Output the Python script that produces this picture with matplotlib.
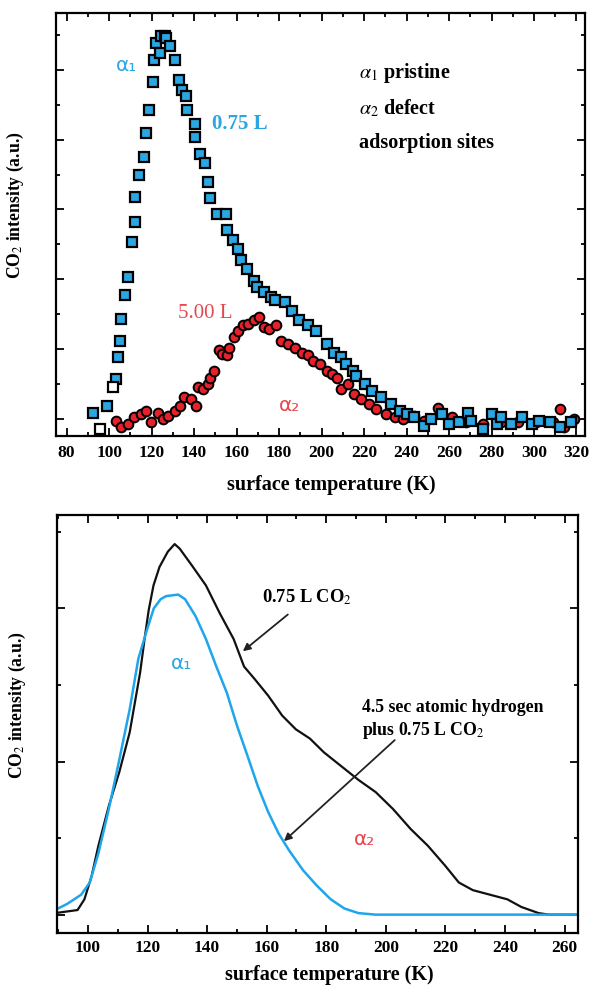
import matplotlib
matplotlib.use("Agg")
import matplotlib.pyplot as plt
from matplotlib.ticker import MultipleLocator, NullFormatter

plt.rcParams["font.family"] = ["Liberation Serif", "DejaVu Serif"]
plt.rcParams["mathtext.fontset"] = "stix"

BLUE = "#2aa6e2"
RED = "#e8202a"
RED_TXT = "#e5474d"

# top panel: 0.75 L (squares)
t_075 = [92.6, 99.2, 103.3, 104.1, 104.9, 105.7, 107.4, 109.0, 110.7, 112.3,
         112.3, 113.9, 116.4, 117.2, 118.9, 120.5, 121.3, 122.1, 123.8, 124.6,
         126.2, 127.0, 128.7, 131.1, 132.8, 134.4, 136.1, 136.9, 140.2, 140.2,
         142.6, 145.1, 146.7, 147.5, 150.8, 154.9, 155.7, 158.2, 160.6, 162.3,
         164.7, 168.0, 169.7, 172.9, 176.2, 177.9, 182.8, 186.1, 189.3, 193.4,
         197.5, 202.4, 205.7, 209.0, 211.5, 214.7, 216.4, 220.5, 223.7, 227.8,
         232.8, 236.9, 240.1, 243.4, 248.3, 251.6, 256.5, 259.8, 264.7, 268.8,
         270.5, 276.2, 280.3, 282.7, 284.4, 289.3, 294.2, 299.1, 302.4, 307.3,
         312.2, 317.2]
i_075 = [0.09, 0.19, 0.57, 0.88, 1.12, 1.43, 1.77, 2.03, 2.53, 2.82,
         3.18, 3.49, 3.75, 4.09, 4.43, 4.83, 5.14, 5.38, 5.24, 5.48,
         5.48, 5.45, 5.34, 5.14, 4.86, 4.71, 4.62, 4.43, 4.23, 4.04,
         3.80, 3.66, 3.40, 3.16, 2.94, 2.94, 2.70, 2.56, 2.44, 2.27,
         2.15, 1.98, 1.89, 1.82, 1.74, 1.70, 1.67, 1.55, 1.41, 1.34,
         1.26, 1.07, 0.95, 0.88, 0.79, 0.69, 0.62, 0.50, 0.40, 0.31,
         0.21, 0.11, 0.07, 0.02, -0.10, 0.0, 0.07, -0.08, -0.05, 0.09,
         -0.03, -0.15, 0.07, -0.08, 0.02, -0.08, 0.02, -0.08, -0.03, -0.05,
         -0.12, -0.05]
# open (white) squares at the start of the 0.75 L trace
t_075_open = [95.9, 101.6]
i_075_open = [-0.15, 0.45]

# top panel: 5.00 L (circles)
t_500 = [103.3, 105.7, 109.0, 111.5, 114.8, 117.2, 119.7, 122.9, 125.4, 127.9,
         131.1, 133.6, 135.2, 138.5, 141.0, 141.8, 144.3, 146.7, 147.5, 149.2,
         151.6, 153.3, 155.7, 156.5, 159.0, 160.6, 163.1, 165.6, 168.0, 170.5,
         172.9, 175.4, 178.7, 181.1, 184.4, 187.7, 191.0, 193.4, 195.9, 199.2,
         202.4, 204.9, 207.4, 209.0, 212.3, 215.5, 218.8, 222.1, 225.4, 230.3,
         234.4, 238.5, 243.4, 248.3, 254.9, 261.4, 268.0, 276.2, 284.4, 292.6,
         300.8, 309.0, 312.2, 313.9, 318.8]
i_500 = [-0.03, -0.12, -0.08, 0.02, 0.07, 0.11, -0.05, 0.09, 0.0, 0.04,
         0.11, 0.19, 0.31, 0.28, 0.19, 0.45, 0.43, 0.50, 0.59, 0.69,
         0.98, 0.93, 0.91, 1.02, 1.17, 1.26, 1.34, 1.36, 1.41, 1.46,
         1.31, 1.29, 1.34, 1.12, 1.07, 1.02, 0.95, 0.91, 0.83, 0.79,
         0.69, 0.64, 0.59, 0.43, 0.50, 0.35, 0.28, 0.21, 0.14, 0.07,
         0.02, 0.0, 0.04, -0.03, 0.16, 0.02, -0.05, -0.08, -0.05, -0.05,
         -0.05, -0.05, 0.14, -0.12, 0.0]

# bottom panel: 0.75 L CO2 (black)
t_co2 = [88.9, 96.5, 98.8, 101.2, 103.5, 107.0, 110.5, 114.0, 117.5, 119.0,
         120.4, 122.0, 124.0, 126.8, 129.1, 130.8, 134.9, 139.6, 144.2, 148.9,
         152.4, 155.9, 160.5, 165.2, 169.8, 174.5, 179.2, 185.0, 190.8, 196.6,
         202.4, 208.3, 214.1, 219.9, 224.5, 229.2, 235.0, 240.8, 245.5, 251.3,
         254.8, 264.5]
i_co2 = [0.01, 0.03, 0.10, 0.25, 0.45, 0.71, 0.93, 1.19, 1.58, 1.80,
         1.99, 2.15, 2.27, 2.37, 2.42, 2.39, 2.28, 2.15, 1.97, 1.80,
         1.62, 1.54, 1.43, 1.30, 1.21, 1.15, 1.06, 0.97, 0.88, 0.80,
         0.69, 0.56, 0.45, 0.32, 0.21, 0.16, 0.13, 0.10, 0.05, 0.01,
         0.0, 0.0]

# bottom panel: 4.5 s atomic H + 0.75 L CO2 (blue)
t_h = [88.9, 93.0, 97.7, 100.6, 103.5, 107.0, 110.5, 114.0, 116.9, 119.8,
       122.1, 124.4, 126.2, 130.3, 132.6, 136.1, 139.6, 143.1, 146.6, 150.1,
       153.5, 157.0, 160.5, 164.0, 167.5, 172.2, 176.8, 181.5, 186.1, 190.8,
       196.6, 264.5]
i_h = [0.03, 0.07, 0.13, 0.21, 0.40, 0.69, 1.01, 1.34, 1.67, 1.86,
       2.00, 2.06, 2.08, 2.09, 2.06, 1.95, 1.80, 1.62, 1.45, 1.23,
       1.04, 0.84, 0.67, 0.53, 0.42, 0.29, 0.19, 0.10, 0.04, 0.01,
       0.0, 0.0]


def style_axes(ax, ylim, ymajor, xlim, pad):
    ax.set_xlim(*xlim)
    ax.set_ylim(*ylim)
    ax.xaxis.set_major_locator(MultipleLocator(20))
    ax.xaxis.set_minor_locator(MultipleLocator(10))
    ax.yaxis.set_major_locator(MultipleLocator(ymajor))
    ax.yaxis.set_minor_locator(MultipleLocator(ymajor / 2))
    ax.yaxis.set_major_formatter(NullFormatter())
    ax.tick_params(which="both", direction="in", top=True, right=True, width=1.3)
    ax.tick_params(which="major", length=6)
    ax.tick_params(which="minor", length=3)
    ax.tick_params(axis="x", pad=pad, labelsize=12.5)
    for lbl in ax.get_xticklabels():
        lbl.set_fontweight("bold")
    for sp in ax.spines.values():
        sp.set_linewidth(1.6)
    ax.set_xlabel("surface temperature (K)", fontsize=14.5, fontweight="bold")
    ax.set_ylabel("CO$_2$ intensity (a.u.)", fontsize=12.7, fontweight="bold")
    ax.yaxis.set_label_coords(-0.056, 0.545)
    ax.xaxis.label.set_va("center")


fig = plt.figure(figsize=(5.9, 9.89), dpi=100)

ax1 = fig.add_axes([0.0949, 0.5592, 0.8966, 0.428])
ax1.plot(t_500, i_500, "o", ms=7, mfc=RED, mec="black", mew=1.4, ls="none")
ax1.plot(t_075, i_075, "s", ms=6.5, mfc=BLUE, mec="black", mew=1.6, ls="none")
ax1.plot(t_075_open, i_075_open, "s", ms=6.5, mfc="white", mec="black",
         mew=1.6, ls="none")
style_axes(ax1, (-0.245, 5.82), 1.0, (75, 324), 6.5)
ax1.xaxis.set_label_coords(0.52, -0.115)

ax1.text(108.1, 5.07, "α₁", color=BLUE, fontsize=14.5, family="DejaVu Sans",
         ha="center", va="center")
ax1.text(161.4, 4.22, "0.75 L", color=BLUE, fontsize=15, fontweight="bold",
         ha="center", va="center")
ax1.text(145.4, 1.51, "5.00 L", color=RED_TXT, fontsize=15,
         ha="center", va="center")
ax1.text(184.8, 0.19, "α₂", color=RED_TXT, fontsize=14.5, family="DejaVu Sans",
         ha="center", va="center")
ax1.text(217.7, 4.96, r"$\alpha_1$ pristine", fontsize=14.5, fontweight="bold",
         ha="left", va="center")
ax1.text(217.7, 4.45, r"$\alpha_2$ defect", fontsize=14.5, fontweight="bold",
         ha="left", va="center")
ax1.text(217.7, 3.95, "adsorption sites", fontsize=14.5, fontweight="bold",
         ha="left", va="center")

ax2 = fig.add_axes([0.0966, 0.0566, 0.883, 0.4227])
ax2.plot(t_co2, i_co2, color="#111111", lw=1.6)
ax2.plot(t_h, i_h, color="#1ea6ec", lw=1.8)
style_axes(ax2, (-0.12, 2.61), 1.0, (89.6, 264.5), 5)
ax2.xaxis.set_label_coords(0.522, -0.10)

arrow = dict(arrowstyle="-|>", color="#222222", lw=1.3, mutation_scale=11,
             shrinkA=0, shrinkB=0)
ax2.text(158.4, 2.07, "0.75 L CO$_2$", fontsize=13.3, fontweight="bold",
         ha="left", va="center")
ax2.annotate("", xy=(152.0, 1.72), xytext=(167.1, 1.96), arrowprops=arrow)
ax2.text(191.9, 1.35, "4.5 sec atomic hydrogen", fontsize=12.8,
         fontweight="bold", ha="left", va="center")
ax2.text(191.9, 1.20, "plus 0.75 L CO$_2$", fontsize=12.8, fontweight="bold",
         ha="left", va="center")
ax2.annotate("", xy=(165.8, 0.48), xytext=(203.0, 1.14), arrowprops=arrow)
ax2.text(131.5, 1.64, "α₁", color=BLUE, fontsize=14.5, family="DejaVu Sans",
         ha="center", va="center")
ax2.text(193.0, 0.49, "α₂", color=RED_TXT, fontsize=14.5, family="DejaVu Sans",
         ha="center", va="center")

fig.savefig("out.png", dpi=100)
